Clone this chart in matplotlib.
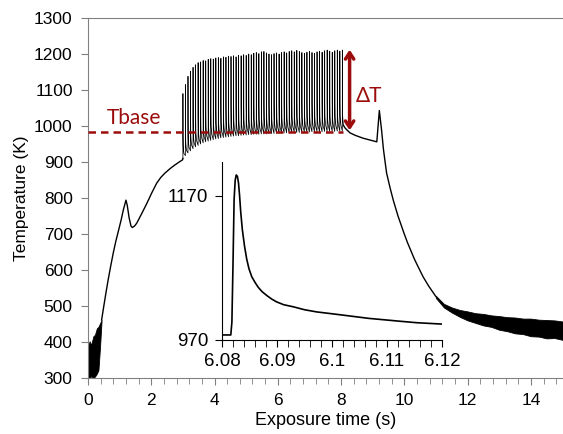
import numpy as np
import matplotlib.pyplot as plt
from matplotlib.ticker import MultipleLocator, FixedLocator

plt.rcParams['font.family'] = ['Liberation Sans', 'DejaVu Sans']

# --- data ---
# start-up noise (0 - 0.43 s), drawn as a band
noise_t = [0.00, 0.05, 0.10, 0.17, 0.22, 0.28, 0.33, 0.38, 0.43]
noise_lo = [300, 300, 305, 300, 304, 312, 322, 386, 461]
noise_hi = [385, 402, 392, 416, 420, 438, 442, 452, 461]

# heating ramp before the pulses
ramp_t = [0.43, 0.50, 0.57, 0.64, 0.72, 0.80, 0.88, 0.96, 1.05, 1.12, 1.20,
          1.24, 1.30, 1.36, 1.40, 1.47, 1.54, 1.70, 1.86, 2.02, 2.17, 2.30,
          2.43, 2.60, 2.75, 2.90, 2.99]
ramp_T = [461, 500, 538, 574, 612, 648, 680, 708, 740, 768, 794,
          780, 745, 722, 718, 722, 730, 757, 785, 815, 841, 857,
          869, 882, 892, 901, 906]

# laser pulses: onset time, trough before the pulse, peak
spike_t = [3.00, 3.08, 3.16, 3.24, 3.32, 3.40, 3.48, 3.56, 3.64, 3.72,
           3.80, 3.88, 3.96, 4.04, 4.12, 4.20, 4.28, 4.36, 4.44, 4.52,
           4.60, 4.68, 4.76, 4.84, 4.92, 5.00, 5.08, 5.16, 5.24, 5.32,
           5.40, 5.48, 5.56, 5.64, 5.72, 5.80, 5.88, 5.96, 6.04, 6.12,
           6.20, 6.28, 6.36, 6.44, 6.52, 6.60, 6.68, 6.76, 6.84, 6.92,
           7.00, 7.08, 7.16, 7.24, 7.32, 7.40, 7.48, 7.56, 7.64, 7.72,
           7.80, 7.88, 7.96, 8.04]
spike_base = [910, 918, 925, 931, 937, 942, 946, 950, 953, 956,
              958, 960, 962, 964, 965, 967, 968, 969, 970, 971,
              972, 973, 973, 974, 975, 975, 976, 976, 977, 977,
              977, 978, 978, 978, 979, 979, 979, 980, 980, 980,
              981, 981, 981, 982, 982, 982, 982, 983, 983, 983,
              983, 984, 984, 984, 984, 984, 985, 985, 985, 985,
              985, 986, 986, 986]
spike_peak = [1090, 1115, 1138, 1152, 1163, 1170, 1176, 1178, 1182, 1181,
              1185, 1187, 1186, 1189, 1190, 1188, 1192, 1191, 1194, 1193,
              1195, 1192, 1196, 1195, 1198, 1196, 1200, 1198, 1202, 1204,
              1201, 1206, 1207, 1203, 1200, 1198, 1201, 1203, 1200, 1204,
              1206, 1203, 1207, 1209, 1206, 1210, 1207, 1204, 1202, 1205,
              1207, 1204, 1202, 1206, 1208, 1205, 1209, 1211, 1208, 1205,
              1209, 1211, 1208, 1211]

# single pulse (inset)
inset_t = [6.0800, 6.0816, 6.0818, 6.0820, 6.0822, 6.0824, 6.0826, 6.0828,
           6.0830, 6.0832, 6.0834, 6.0837, 6.0841, 6.0845, 6.0849, 6.0854,
           6.0860, 6.0866, 6.0873, 6.0881, 6.0890, 6.0899, 6.0912, 6.0930,
           6.0950, 6.0972, 6.1015, 6.1067, 6.1124, 6.1154, 6.1202]
inset_T = [977, 977, 995, 1075, 1165, 1192, 1199, 1197,
           1188, 1170, 1148, 1123, 1100, 1082, 1069, 1058,
           1050, 1043, 1037, 1032, 1027, 1023, 1019, 1016,
           1012, 1009, 1005, 1000, 996, 994, 992]

# after the pulses: cool-down
cool_t = [8.13, 8.28, 8.45, 8.70, 9.13, 9.17, 9.21, 9.28, 9.34, 9.40, 9.44,
          9.55, 9.65, 9.80, 9.99, 10.10, 10.21, 10.32, 10.43, 10.60, 10.78,
          11.00]
cool_T = [994, 981, 974, 966, 956, 1000, 1043, 989, 935, 895, 869,
          828, 794, 750, 702, 676, 653, 630, 610, 580, 554,
          526]

# noisy tail, drawn as a band
tail_t = [11.00, 11.25, 11.50, 11.75, 12.00, 12.25, 12.50, 12.75, 13.00,
          13.25, 13.50, 13.75, 14.00, 14.25, 14.50, 14.75, 15.00]
tail_hi = [528, 506, 496, 489, 485, 480, 478, 474, 472, 469, 468, 465, 465,
           462, 461, 460, 457]
tail_lo = [522, 496, 482, 470, 460, 453, 446, 442, 434, 430, 424, 422, 416,
           415, 410, 411, 406]

t_base = 982
dT_top, dT_bottom = 1212, 988

red = '#9b0d0d'

# build the pulse train from the inset pulse shape
on = inset_t[1]
amp = max(inset_T) - inset_T[0]
pt, pT = [], []
for t0, b, p in zip(spike_t, spike_base, spike_peak):
    for tt, TT in zip(inset_t[1:], inset_T[1:]):
        pt.append(t0 + (tt - on))
        pT.append(b + (TT - inset_T[0]) * (p - b) / amp)

fig = plt.figure(figsize=(5.63, 4.34), dpi=100)
ax = fig.add_axes([88 / 563, 56 / 434, 474.5 / 563, 360 / 434])

ax.fill_between(noise_t, noise_lo, noise_hi, color='black', lw=0.6)
ax.plot(ramp_t + [pt[0]], ramp_T + [pT[0]], color='black', lw=1.0)
ax.plot(pt, pT, color='black', lw=0.55)
ax.plot([pt[-1]] + cool_t, [pT[-1]] + cool_T, color='black', lw=1.0)
ax.fill_between(tail_t, tail_lo, tail_hi, color='black', lw=0.6)

ax.plot([0, 8.06], [t_base, t_base], color=red, lw=1.8, ls=(0, (3, 2)), zorder=5)
ax.text(0.6, 1005, 'Tbase', color=red, fontsize=15, family=['Lato', 'DejaVu Sans'])
ax.annotate('', xy=(8.27, dT_top), xytext=(8.27, dT_bottom),
            arrowprops=dict(arrowstyle='<->, head_length=0.45, head_width=0.3',
                            color=red, lw=2.5, shrinkA=0, shrinkB=0))
ax.text(8.47, 1067, '\u0394T', color=red, fontsize=15, family=['Lato', 'DejaVu Sans'])

ax.set_xlim(0, 15)
ax.set_ylim(300, 1300)
ax.xaxis.set_major_locator(MultipleLocator(2))
ax.xaxis.set_minor_locator(MultipleLocator(0.4))
ax.yaxis.set_major_locator(MultipleLocator(100))
ax.spines['right'].set_visible(False)
for s in ['left', 'bottom', 'top']:
    ax.spines[s].set_color('#808080')
ax.tick_params(which='both', direction='out', color='#808080', labelsize=12.5)
ax.tick_params(axis='y', length=5, pad=6)
ax.tick_params(axis='x', which='major', length=5, pad=6)
ax.tick_params(axis='x', which='minor', length=4)
ax.set_xlabel('Exposure time (s)', fontsize=13, labelpad=3)
ax.set_ylabel('Temperature (K)', fontsize=12.5, labelpad=4)

# inset with one pulse
ins = fig.add_axes([222 / 563, 94 / 434, 220 / 563, 178 / 434])
ins.patch.set_alpha(0)
ins.plot(inset_t, inset_T, color='black', lw=1.2)
ins.set_xlim(6.08, 6.12)
ins.set_ylim(970, 1217)
ins.xaxis.set_major_locator(FixedLocator([6.08, 6.09, 6.10, 6.11, 6.12]))
ins.xaxis.set_minor_locator(MultipleLocator(0.002))
ins.set_xticklabels(['6.08', '6.09', '6.1', '6.11', '6.12'])
ins.set_yticks([970, 1170])
ins.spines['top'].set_visible(False)
ins.spines['right'].set_visible(False)
ins.tick_params(which='both', direction='out', length=5, labelsize=13.5)
ins.tick_params(axis='y', pad=5)
ins.tick_params(axis='x', pad=4)

fig.savefig('out.png', dpi=100)
